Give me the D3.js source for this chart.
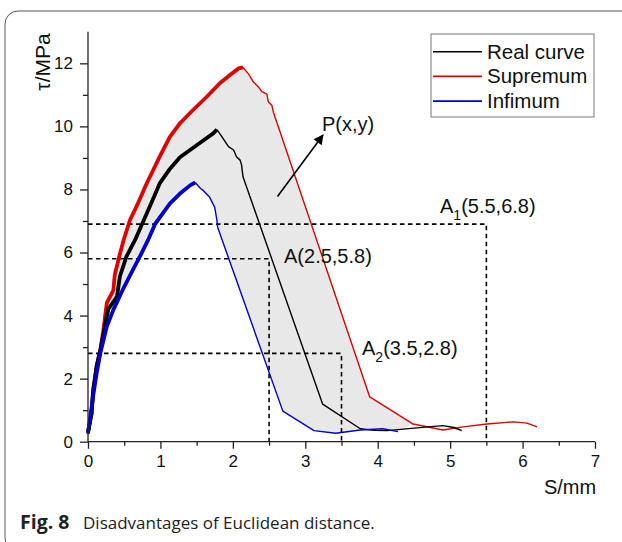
<!DOCTYPE html>
<html>
<head>
<meta charset="utf-8">
<script src="https://cdn.jsdelivr.net/npm/d3@7"></script>
<style>
  html, body { margin: 0; padding: 0; background: #fff; }
  svg { display: block; }
  text { font-family: Arial, "Liberation Sans", sans-serif; }
  .tick text { font-family: Arial, "Liberation Sans", sans-serif !important; font-size: 17px; fill: #111; }
</style>
</head>
<body>
<svg id="chart" width="622" height="542"></svg>
<script>
// ---------------- data ----------------
const seriesNames = ["Real curve", "Supremum", "Infimum"];
const seriesColors = ["#000000", "#dd0000", "#0000c8"];

const realCurve = [
  [0,0.3],[0.05,0.9],[0.07,1.6],[0.12,2.4],[0.17,2.9],[0.22,3.5],[0.28,4.2],[0.4,4.6],
  [0.44,5.24],[0.53,5.87],[0.65,6.4],[0.75,6.92],[0.87,7.55],[0.99,8.19],[1.13,8.65],
  [1.27,9.02],[1.5,9.4],[1.62,9.6],[1.73,9.78],[1.78,9.9],[1.85,9.67],[1.94,9.36],
  [2.01,9.25],[2.05,9.04],[2.1,8.93],[2.12,8.78],[2.14,8.4],[3.24,1.19],[3.76,0.41],
  [3.95,0.36],[4.13,0.35],[4.54,0.44],[4.9,0.51],[5.05,0.45],[5.16,0.35]
];
const supremum = [
  [0,0.32],[0.05,0.9],[0.07,1.6],[0.12,2.4],[0.17,2.9],[0.21,3.5],[0.26,4.4],[0.35,4.8],
  [0.37,5.3],[0.44,5.95],[0.49,6.38],[0.58,7.03],[0.69,7.56],[0.81,8.19],[0.99,9.04],
  [1.13,9.67],[1.27,10.1],[1.45,10.52],[1.64,10.94],[1.82,11.37],[1.96,11.63],
  [2.08,11.84],[2.14,11.87],[2.21,11.68],[2.24,11.58],[2.28,11.42],[2.35,11.26],
  [2.4,11.1],[2.47,11.02],[2.49,10.78],[2.54,10.66],[2.56,10.45],[3.89,1.42],
  [4.49,0.56],[4.9,0.37],[5.18,0.47],[5.51,0.56],[5.87,0.63],[6.06,0.59],[6.2,0.47]
];
const infimum = [
  [0,0.25],[0.07,1.43],[0.12,2.18],[0.17,2.8],[0.26,3.65],[0.35,4.18],[0.48,4.82],
  [0.62,5.45],[0.74,5.98],[0.83,6.4],[0.93,6.92],[1.13,7.55],[1.27,7.87],[1.41,8.13],
  [1.48,8.22],[1.55,8.04],[1.59,7.97],[1.68,7.75],[1.75,7.43],[1.78,7.02],[1.79,6.8],
  [2.69,0.97],[3.12,0.35],[3.42,0.27],[3.76,0.37],[4.07,0.41],[4.28,0.32]
];
const allSeries = [realCurve, supremum, infimum];

const xTicks = [0,1,2,3,4,5,6,7];
const xMinorTicks = [0.5,1.5,2.5,3.5,4.5,5.5,6.5];
const yTicks = [0,2,4,6,8,10,12];
const yMinorTicks = [1,3,5,7,9,11];

const refPoints = [[5.5,6.9],[2.5,5.8],[3.5,2.8]];
const refLabels = [["A","1","(5.5,6.8)"],["A","","(2.5,5.8)"],["A","2","(3.5,2.8)"]];
const pointLabel = "P(x,y)";
const xTitle = "S/mm";
const yTitle = "τ/MPa";
const captionBold = "Fig. 8";
const captionText = "Disadvantages of Euclidean distance.";

// ---------------- layout ----------------
const svg = d3.select("#chart");
const x = d3.scaleLinear().domain([0,7]).range([88,595]);
const y = d3.scaleLinear().domain([0,13]).range([441.7,31.8]);

// frame
svg.append("rect").attr("x",5).attr("y",11).attr("width",640).attr("height",540)
  .attr("rx",13).attr("fill","none").attr("stroke","#555").attr("stroke-width",1);

// gray band between supremum and infimum
const supCut = supremum.filter(d => d[0] <= 4.5);
const band = supCut.concat(infimum.slice().reverse());
svg.append("path").attr("d", d3.line().x(d=>x(d[0])).y(d=>y(d[1]))(band) + "Z")
  .attr("fill","#e8e8e8").attr("stroke","none");

// dashed reference lines
const dash = svg.append("g");
refPoints.forEach(p => {
  dash.append("path")
    .attr("d", d3.line()([[x(0),y(p[1])],[x(p[0]),y(p[1])],[x(p[0]),y(0)]]))
    .attr("fill","none").attr("stroke","#000").attr("stroke-width",1.6)
    .attr("stroke-dasharray","4.5,3.5");
});

// curves: noisy (rising) part thick, after peak thin
const line = d3.line().x(d=>x(d[0])).y(d=>y(d[1]));
[1,0,2].forEach(i => {
  const s = allSeries[i];
  const peak = d3.maxIndex(s, d => d[1]);
  svg.append("path").attr("d", line(s.slice(peak)))
    .attr("fill","none").attr("stroke",seriesColors[i]).attr("stroke-width",1.4)
    .attr("stroke-linejoin","round");
  svg.append("path").attr("d", line(s.slice(0, peak+1)))
    .attr("fill","none").attr("stroke",seriesColors[i]).attr("stroke-width",3.8)
    .attr("stroke-linejoin","round");
});

// axes
const axisColor = "#222";
const gx = svg.append("g").attr("transform",`translate(0,${y(0)})`);
gx.call(d3.axisBottom(x).tickValues(xTicks).tickSize(7).tickPadding(6).tickFormat(d3.format("d")));
const gxm = svg.append("g").attr("transform",`translate(0,${y(0)})`);
gxm.call(d3.axisBottom(x).tickValues(xMinorTicks).tickSize(4).tickFormat(""));
const gy = svg.append("g").attr("transform",`translate(${x(0)},0)`);
gy.call(d3.axisLeft(y).tickValues(yTicks).tickSize(8).tickPadding(7).tickFormat(d3.format("d")));
const gym = svg.append("g").attr("transform",`translate(${x(0)},0)`);
gym.call(d3.axisLeft(y).tickValues(yMinorTicks).tickSize(5).tickFormat(""));
[gx,gxm,gy,gym].forEach(g => {
  g.attr("font-family", null).attr("font-size", null);
  g.select(".domain").attr("stroke",axisColor).attr("stroke-width",1.3);
  g.selectAll(".tick line").attr("stroke",axisColor).attr("stroke-width",1.3);
  g.selectAll(".tick text").attr("fill","#111");
});
gx.selectAll(".domain").attr("d", `M${x(0)},0H${x(7)}`);
gy.selectAll(".domain").attr("d", `M0,${y(13)}V${y(0)}`);
gxm.select(".domain").remove();
gym.select(".domain").remove();

// axis titles
svg.append("text").attr("x",570).attr("y",494).attr("text-anchor","middle")
  .style("font-size","20px").attr("fill","#111").text(xTitle);
svg.append("text").attr("transform","translate(50,62) rotate(-90)").attr("text-anchor","middle")
  .style("font-size","21px").attr("fill","#111").text(yTitle);

// reference labels
const labelPos = [[440,213],[284,263],[362,355]];
refLabels.forEach((l,i) => {
  const t = svg.append("text").attr("x",labelPos[i][0]).attr("y",labelPos[i][1])
    .style("font-size","20px").attr("fill","#111");
  t.append("tspan").text(l[0]);
  if (l[1]) t.append("tspan").attr("dy",7).style("font-size","14px").text(l[1]);
  t.append("tspan").attr("dy", l[1] ? -7 : 0).text(l[2]);
});

// arrow to P(x,y)
svg.append("defs").append("marker").attr("id","arr").attr("viewBox","0 0 10 10")
  .attr("refX",9).attr("refY",5).attr("markerWidth",12).attr("markerHeight",10)
  .attr("markerUnits","userSpaceOnUse").attr("orient","auto")
  .append("path").attr("d","M0,0L10,5L0,10Z").attr("fill","#000");
svg.append("line").attr("x1",277.5).attr("y1",196.5).attr("x2",323).attr("y2",135)
  .attr("stroke","#000").attr("stroke-width",1.6).attr("marker-end","url(#arr)");
svg.append("text").attr("x",322).attr("y",131).style("font-size","20px").attr("fill","#111").text(pointLabel);

// legend
const lg = svg.append("g");
lg.append("rect").attr("x",431).attr("y",34).attr("width",163).attr("height",83)
  .attr("fill","#fff").attr("stroke","#777").attr("stroke-width",1);
seriesNames.forEach((n,i) => {
  const ly = 51.7 + i*24.7;
  lg.append("line").attr("x1",433).attr("x2",482).attr("y1",ly).attr("y2",ly)
    .attr("stroke",seriesColors[i]).attr("stroke-width",1.6);
  lg.append("text").attr("x",487).attr("y",ly+7).style("font-size","20.5px").attr("fill","#111").text(n);
});

// caption
const cap = svg.append("text").attr("x",20).attr("y",529)
  .style("font-family","'Open Sans', 'Noto Sans', sans-serif").style("font-size","17px").attr("fill","#222");
cap.append("tspan").style("font-weight","bold").style("font-size","19.5px").text(captionBold);
cap.append("tspan").attr("x",83).text(captionText);
</script>
</body>
</html>
